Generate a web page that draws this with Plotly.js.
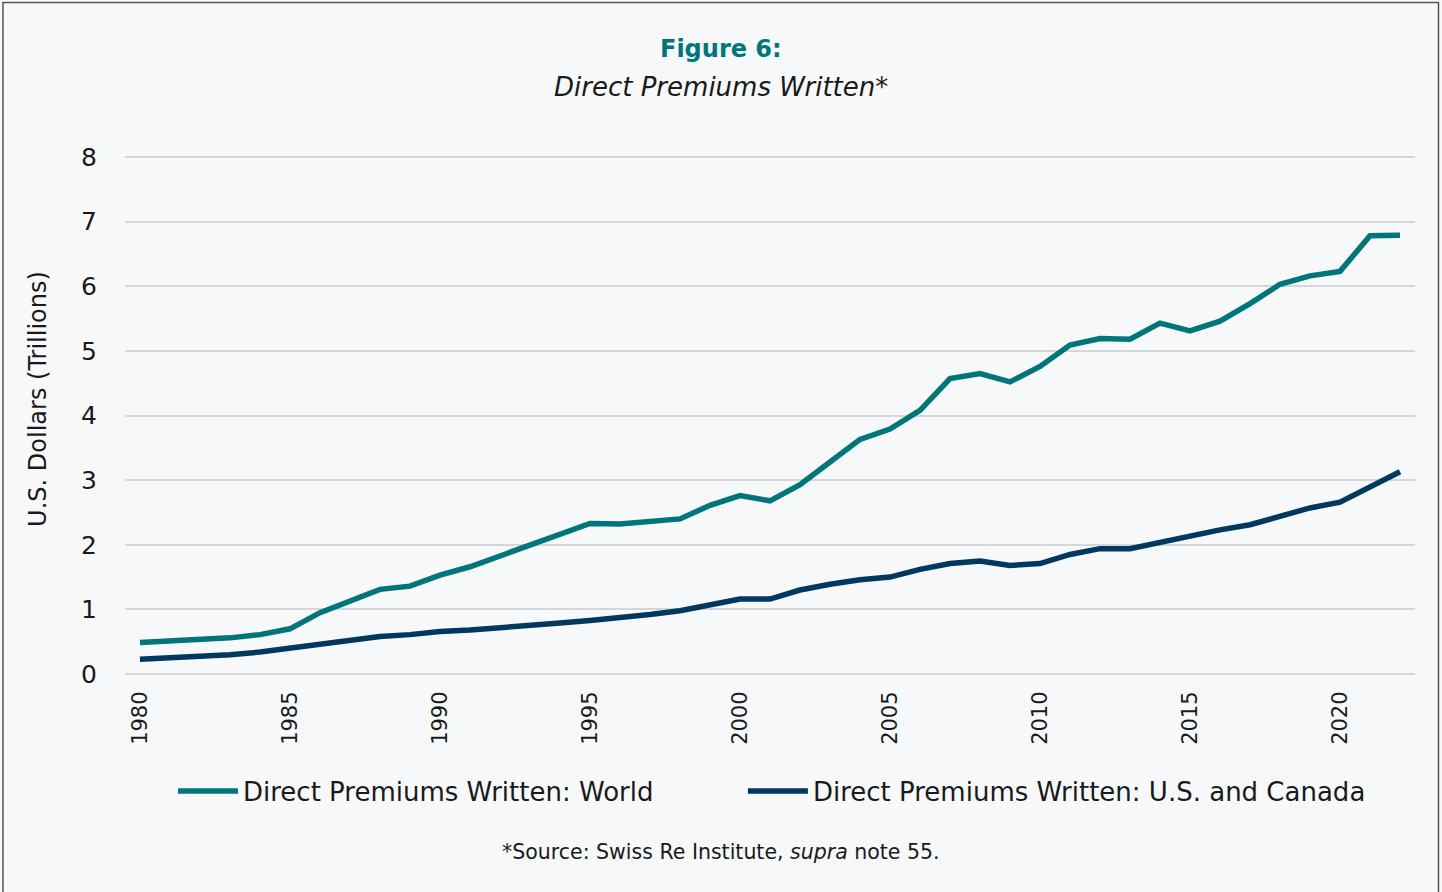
<!DOCTYPE html>
<html>
<head>
<meta charset="utf-8">
<script src="https://cdn.plot.ly/plotly-3.0.1.min.js"></script>
<style>
  html, body { margin: 0; padding: 0; background: #f7f8f9; }
  #chart { width: 1442px; height: 892px; }
</style>
</head>
<body>
<div id="chart"></div>
<script>
const years = [1980,1981,1982,1983,1984,1985,1986,1987,1988,1989,1990,1991,1992,1993,1994,1995,1996,1997,1998,1999,2000,2001,2002,2003,2004,2005,2006,2007,2008,2009,2010,2011,2012,2013,2014,2015,2016,2017,2018,2019,2020,2021,2022];
const worldPremiums = [0.49,0.51,0.525,0.56,0.61,0.70,0.95,1.13,1.31,1.36,1.53,1.66,1.83,1.98,2.15,2.33,2.32,2.35,2.40,2.61,2.76,2.68,2.93,3.28,3.63,3.79,4.08,4.57,4.65,4.52,4.76,5.09,5.19,5.18,5.43,5.31,5.46,5.73,6.03,6.16,6.23,6.78,6.79];
const usCanadaPremiums = [0.23,0.25,0.28,0.30,0.34,0.40,0.47,0.51,0.58,0.61,0.66,0.68,0.71,0.76,0.79,0.83,0.87,0.92,0.98,1.06,1.16,1.16,1.30,1.39,1.46,1.50,1.62,1.71,1.75,1.68,1.71,1.85,1.94,1.94,2.04,2.14,2.23,2.31,2.44,2.57,2.66,2.90,3.13];
const seriesNames = ["Direct Premiums Written: World", "Direct Premiums Written: U.S. and Canada"];
const xTicks = [1980,1985,1990,1995,2000,2005,2010,2015,2020];
const yTicks = [0,1,2,3,4,5,6,7,8];

const FONT = "'DejaVu Sans', 'Open Sans', sans-serif";
const TEAL = "#00767b";
const NAVY = "#00385f";
const INK = "#1a1a1a";

const traces = [
  { x: years, y: worldPremiums, name: seriesNames[0], type: "scatter", mode: "lines",
    line: { color: TEAL, width: 5.5 }, legend: "legend" },
  { x: years, y: usCanadaPremiums, name: seriesNames[1], type: "scatter", mode: "lines",
    line: { color: NAVY, width: 5.5 }, legend: "legend2" }
];

const legendBase = {
  orientation: "h", xanchor: "left", y: -0.221, yanchor: "middle",
  font: { size: 26, family: FONT, color: INK },
  bgcolor: "rgba(0,0,0,0)", itemwidth: 60
};

const layout = {
  width: 1442, height: 892,
  paper_bgcolor: "#f7f8f9",
  plot_bgcolor: "rgba(0,0,0,0)",
  margin: { l: 125, r: 27, t: 155, b: 216 },
  font: { family: FONT, color: INK },
  showlegend: true,
  legend: Object.assign({}, legendBase, { x: 0.0372 }),
  legend2: Object.assign({}, legendBase, { x: 0.479 }),
  xaxis: {
    range: [1979.5, 2022.5],
    tickvals: xTicks, ticktext: xTicks.map(String),
    tickangle: -90,
    tickfont: { size: 21, family: FONT, color: INK },
    ticks: "outside", ticklen: 6, tickcolor: "rgba(0,0,0,0)",
    showgrid: false, zeroline: false, showline: false
  },
  yaxis: {
    range: [-0.03, 8.03],
    tickvals: yTicks, ticktext: yTicks.map(String),
    tickfont: { size: 25, family: FONT, color: INK },
    ticks: "outside", ticklen: 22, tickcolor: "rgba(0,0,0,0)",
    showgrid: true, gridcolor: "#d3d6db", gridwidth: 2,
    zeroline: false, showline: false
  },
  annotations: [
    { text: "<b>Figure 6:</b>", xref: "paper", yref: "paper", x: 0.462, y: 1.204,
      xanchor: "center", yanchor: "middle", showarrow: false,
      font: { size: 24, family: FONT, color: TEAL } },
    { text: "<i>Direct Premiums Written*</i>", xref: "paper", yref: "paper", x: 0.462, y: 1.131,
      xanchor: "center", yanchor: "middle", showarrow: false,
      font: { size: 26, family: FONT, color: INK } },
    { text: "U.S. Dollars (Trillions)", xref: "paper", yref: "paper", x: -0.0674, y: 0.532,
      xanchor: "center", yanchor: "middle", showarrow: false, textangle: -90,
      font: { size: 24, family: FONT, color: INK } },
    { text: "*Source: Swiss Re Institute, <i>supra</i> note 55.", xref: "paper", yref: "paper", x: 0.462, y: -0.337,
      xanchor: "center", yanchor: "middle", showarrow: false,
      font: { size: 20.5, family: FONT, color: INK } }
  ],
  shapes: [
    { type: "rect", xref: "paper", yref: "paper",
      x0: -0.0946, x1: 1.0182, y0: -0.4175, y1: 1.2927,
      line: { color: "#555", width: 1.5 }, fillcolor: "rgba(0,0,0,0)", layer: "above" }
  ]
};

Plotly.newPlot("chart", traces, layout, { displayModeBar: false, staticPlot: true });
</script>
</body>
</html>
